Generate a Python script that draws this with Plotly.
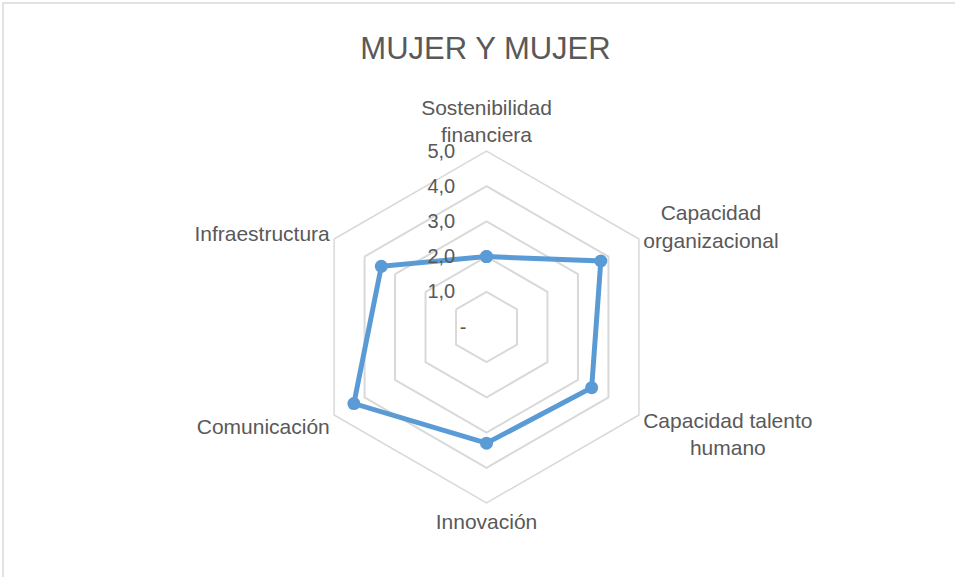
import plotly.graph_objects as go

categories = ["Sostenibilidad financiera", "Capacidad organizacional", "Capacidad talento humano",
              "Innovación", "Comunicación", "Infraestructura"]
category_labels = ["Sostenibilidad<br>financiera",
                   "\u00a0\u00a0\u00a0Capacidad<br>organizacional",
                   "Capacidad talento<br>\u00a0\u00a0\u00a0\u00a0\u00a0\u00a0\u00a0\u00a0humano",
                   "Innovación", "Comunicación", "Infraestructura"]
values = [2.0, 3.75, 3.45, 3.3, 4.35, 3.45]
tick_vals = [0, 1, 2, 3, 4, 5]
tick_text = ["-", "1,0", "2,0", "3,0", "4,0", "5,0"]

FONT = "Liberation Sans, Arial, sans-serif"
TXT = "#595959"
GRID = "#D9D9D9"


def padded(t):
    # Excel centres the radial labels; approximate with trailing no-break spaces
    return t + "\u00a0" * (3 if len(t) == 1 else 5)


fig = go.Figure()
fig.add_trace(go.Scatterpolar(
    r=values + values[:1],
    theta=categories + categories[:1],
    mode="lines+markers",
    line=dict(color="#5B9BD5", width=5),
    marker=dict(color="#5B9BD5", size=13),
    showlegend=False,
    hoverinfo="skip",
))

fig.update_layout(
    width=955, height=577,
    margin=dict(l=0, r=0, t=0, b=0),
    paper_bgcolor="white",
    plot_bgcolor="white",
    title=dict(text="MUJER Y MUJER", x=485.5/955, xanchor="center", y=1 - 48/577, yanchor="middle",
               font=dict(family=FONT, size=31, color=TXT)),
    polar=dict(
        domain=dict(x=[310.5/955, 662.5/955], y=[74/577, 426/577]),
        gridshape="linear",
        bgcolor="white",
        angularaxis=dict(
            rotation=90, direction="clockwise",
            tickmode="array", tickvals=categories, ticktext=category_labels,
            showgrid=False, showline=True, linecolor=GRID, linewidth=1.5,
            ticks="", tickfont=dict(family=FONT, size=21, color=TXT),
        ),
        radialaxis=dict(
            range=[0, 5], angle=90, tickangle=90,
            tickvals=tick_vals, ticktext=[padded(t) for t in tick_text],
            showline=False, showgrid=True, gridcolor=GRID, gridwidth=1.5,
            ticks="", side="counterclockwise",
            tickfont=dict(family=FONT, size=20, color=TXT),
        ),
    ),
    shapes=[dict(type="rect", xref="paper", yref="paper",
                 x0=3/955, x1=1.02, y0=-0.02, y1=1 - 3/577,
                 line=dict(color=GRID, width=1.5), fillcolor="rgba(0,0,0,0)", layer="below")],
)

fig.write_html("out.html", config={"displayModeBar": False},
               post_script="document.body.style.margin='0px';")
